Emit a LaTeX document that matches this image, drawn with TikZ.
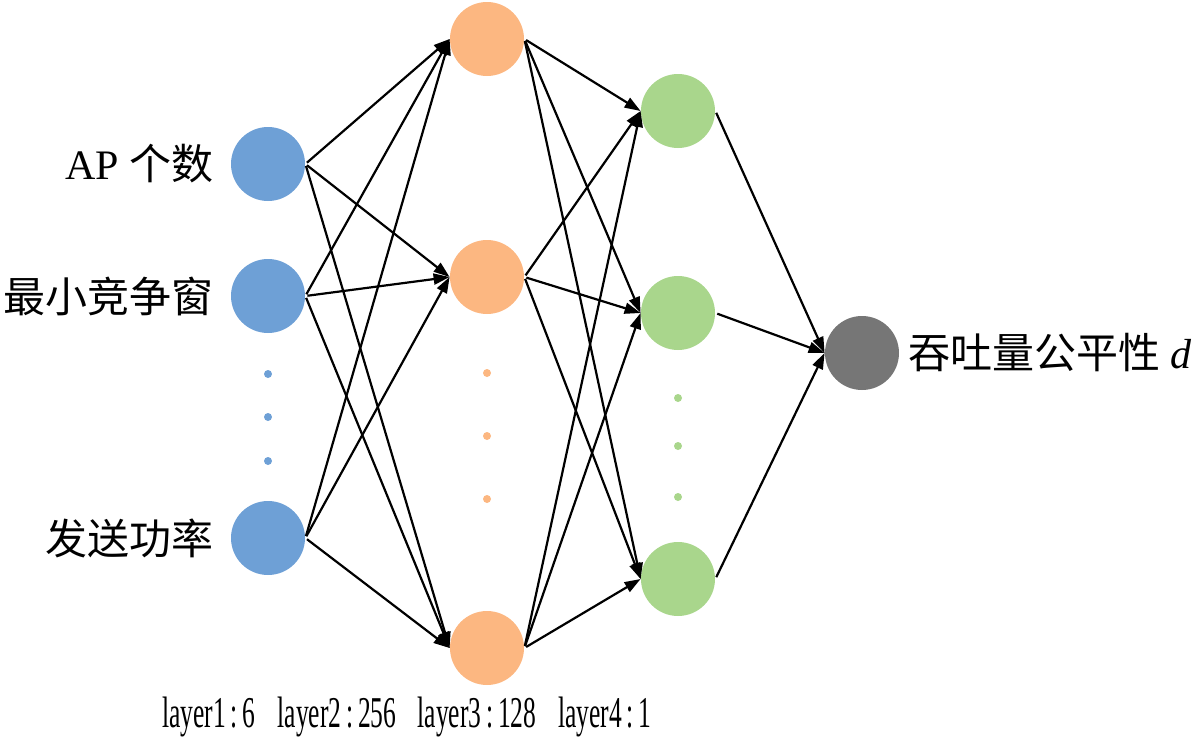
\documentclass[tikz,border=0pt]{standalone}
\usepackage{fontspec}
\setmainfont{Liberation Serif}
\newfontfamily\cjk{Noto Sans CJK SC}
\newfontfamily\narrowserif[FakeStretch=0.58]{Liberation Serif}
\usetikzlibrary{arrows.meta}
\definecolor{inblue}{RGB}{110,160,214}
\definecolor{hidorange}{RGB}{252,183,129}
\definecolor{hidgreen}{RGB}{169,214,140}
\definecolor{outgray}{RGB}{118,118,118}
\newcommand{\laycolon}{\kern2.4pt:\kern2.4pt}
\begin{document}
\begin{tikzpicture}[x=0.5pt,y=-0.5pt]
	\tikzstyle{every node}+=[inner sep=0pt]
	\tikzstyle{unit}=[circle,minimum size=37pt]
	\tikzstyle{dot}=[circle,minimum size=4pt]
	\tikzstyle{lab}=[font=\fontsize{21pt}{25pt}\selectfont]
	\tikzstyle{laylab}=[font=\fontsize{22pt}{26pt}\narrowserif]
	\tikzstyle{link}=[-{Triangle[length=8pt,width=5.5pt]},line width=1.1pt,shorten <=1pt]
	\useasboundingbox (0,0) rectangle (1200,745);
	% layer 1
	\node [unit,fill=inblue] (a1) at (268,164) {};
	\node [unit,fill=inblue] (a2) at (268,296) {};
	\node [unit,fill=inblue] (a3) at (268,538) {};
	\node [dot,fill=inblue] (ad1) at (268,374) {};
	\node [dot,fill=inblue] (ad2) at (268,417) {};
	\node [dot,fill=inblue] (ad3) at (268,461) {};
	% layer 2
	\node [unit,fill=hidorange] (b1) at (487,39) {};
	\node [unit,fill=hidorange] (b2) at (487,277) {};
	\node [unit,fill=hidorange] (b3) at (487,648) {};
	\node [dot,fill=hidorange] (bd1) at (487,373) {};
	\node [dot,fill=hidorange] (bd2) at (487,436) {};
	\node [dot,fill=hidorange] (bd3) at (487,499) {};
	% layer 3
	\node [unit,fill=hidgreen] (c1) at (678,111) {};
	\node [unit,fill=hidgreen] (c2) at (678,313) {};
	\node [unit,fill=hidgreen] (c3) at (678,579) {};
	\node [dot,fill=hidgreen] (cd1) at (678,398) {};
	\node [dot,fill=hidgreen] (cd2) at (678,446) {};
	\node [dot,fill=hidgreen] (cd3) at (678,497) {};
	% layer 4
	\node [unit,fill=outgray] (d1) at (862,353) {};
	% labels
	\node [lab,anchor=east] (a1lab) at (214,164) {AP {\cjk 个数}};
	\node [lab,anchor=east] (a2lab) at (214,296) {\cjk 最小竞争窗};
	\node [lab,anchor=east] (a3lab) at (214,538) {\cjk 发送功率};
	\node [lab,anchor=west] (d1lab) at (908,353) {{\cjk 吞吐量公平性} \textit{d}};
	\node [laylab] (lay1) at (209,717) {layer1\laycolon6};
	\node [laylab] (lay2) at (337,717) {layer2\laycolon256};
	\node [laylab] (lay3) at (477,717) {layer3\laycolon128};
	\node [laylab] (lay4) at (605,717) {layer4\laycolon1};
	% layer 1 to layer 2
	\draw [link] (a1.east) -- (b1.west);
	\draw [link] (a1.east) -- (b2.west);
	\draw [link] (a1.east) -- (b3.west);
	\draw [link] (a2.east) -- (b1.west);
	\draw [link] (a2.east) -- (b2.west);
	\draw [link] (a2.east) -- (b3.west);
	\draw [link] (a3.east) -- (b1.west);
	\draw [link] (a3.east) -- (b2.west);
	\draw [link] (a3.east) -- (b3.west);
	% layer 2 to layer 3
	\draw [link] (b1.east) -- (c1.west);
	\draw [link] (b1.east) -- (c2.west);
	\draw [link] (b1.east) -- (c3.west);
	\draw [link] (b2.east) -- (c1.west);
	\draw [link] (b2.east) -- (c2.west);
	\draw [link] (b2.east) -- (c3.west);
	\draw [link] (b3.east) -- (c1.west);
	\draw [link] (b3.east) -- (c2.west);
	\draw [link] (b3.east) -- (c3.west);
	% layer 3 to layer 4
	\draw [link] (c1.east) -- (d1.west);
	\draw [link] (c2.east) -- (d1.west);
	\draw [link] (c3.east) -- (d1.west);
\end{tikzpicture}
\end{document}
